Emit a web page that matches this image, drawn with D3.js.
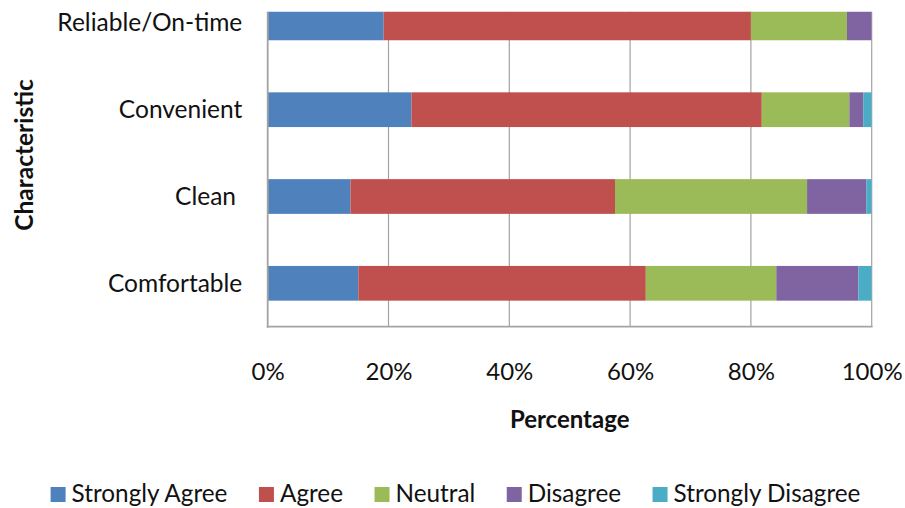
<!DOCTYPE html>
<html>
<head>
<meta charset="utf-8">
<script src="https://cdn.jsdelivr.net/npm/d3@7"></script>
<style>
  body { margin: 0; background: #fff; }
  svg text { font-family: Lato, "Open Sans", sans-serif; fill: #111; }
</style>
</head>
<body>
<svg id="chart" width="905" height="508"></svg>
<script>
// Survey responses per characteristic (percent of respondents)
const categories = ["Reliable/On-time", "Convenient", "Clean ", "Comfortable"];
const seriesNames = ["Strongly Agree", "Agree", "Neutral", "Disagree", "Strongly Disagree"];
const stronglyAgree    = [19.2, 23.8, 13.7, 15.0];
const agree            = [60.8, 58.0, 43.8, 47.6];
const neutral          = [15.9, 14.5, 31.8, 21.6];
const disagree         = [4.1, 2.3, 9.8, 13.6];
const stronglyDisagree = [0.0, 1.4, 0.9, 2.2];
const tickValues = [0, 0.2, 0.4, 0.6, 0.8, 1];
const seriesColors = ["#4F81BD", "#C0504D", "#9BBB59", "#8064A2", "#4BACC6"];

const seriesValues = [stronglyAgree, agree, neutral, disagree, stronglyDisagree];
const rows = categories.map((c, i) => {
  const r = { category: c };
  seriesNames.forEach((s, j) => { r[s] = seriesValues[j][i]; });
  return r;
});

const svg = d3.select("#chart");
const plot = { left: 267.7, right: 871.7, top: 11.7, bottom: 326.7 };

const x = d3.scaleLinear().domain([0, 1]).range([plot.left, plot.right]);
const y = d3.scaleBand()
  .domain(categories)
  .range([-20.5, plot.bottom])
  .paddingInner(0.6)
  .paddingOuter(0.3);
const color = d3.scaleOrdinal().domain(seriesNames).range(seriesColors);

const stacked = d3.stack().keys(seriesNames).offset(d3.stackOffsetExpand)(rows);

// clip region for the plot area
svg.append("defs").append("clipPath").attr("id", "plotClip")
  .append("rect")
  .attr("x", plot.left).attr("y", plot.top)
  .attr("width", plot.right - plot.left).attr("height", plot.bottom - plot.top);

// vertical gridlines
svg.append("g")
  .selectAll("line")
  .data(tickValues.slice(1))
  .join("line")
  .attr("x1", d => x(d)).attr("x2", d => x(d))
  .attr("y1", plot.top).attr("y2", plot.bottom)
  .attr("stroke", "#a3a3a3").attr("stroke-width", 1.2);

// stacked bars
svg.append("g").attr("clip-path", "url(#plotClip)")
  .selectAll("g")
  .data(stacked)
  .join("g")
  .attr("fill", d => color(d.key))
  .selectAll("rect")
  .data(d => d)
  .join("rect")
  .attr("x", d => x(d[0]))
  .attr("width", d => x(d[1]) - x(d[0]))
  .attr("y", d => y(d.data.category))
  .attr("height", y.bandwidth());

// axis lines
svg.append("line")
  .attr("x1", plot.left).attr("x2", plot.left)
  .attr("y1", plot.top).attr("y2", plot.bottom + 1)
  .attr("stroke", "#a3a3a3").attr("stroke-width", 1.8);
svg.append("line")
  .attr("x1", plot.left - 0.9).attr("x2", plot.right + 0.9)
  .attr("y1", plot.bottom).attr("y2", plot.bottom)
  .attr("stroke", "#a3a3a3").attr("stroke-width", 1.8);

// x axis labels
const xAxis = svg.append("g")
  .attr("transform", `translate(0,${plot.bottom})`)
  .call(d3.axisBottom(x).tickValues(tickValues).tickFormat(d3.format(".0%")).tickSize(0));
xAxis.select(".domain").remove();
xAxis.selectAll("text")
  .attr("y", 53.5).attr("dy", null)
  .style("font-size", "24px");

// y axis labels
const yAxis = svg.append("g")
  .attr("transform", `translate(${plot.left},0)`)
  .call(d3.axisLeft(y).tickSize(0).tickPadding(25.4));
yAxis.select(".domain").remove();
yAxis.selectAll("text")
  .style("font-size", "24.5px")
  .style("white-space", "pre")
  .attr("dy", "0.35em");

// axis titles
svg.append("text")
  .attr("x", (plot.left + plot.right) / 2).attr("y", 428)
  .attr("text-anchor", "middle")
  .style("font-size", "24px").style("font-weight", "bold")
  .text("Percentage");
svg.append("text")
  .attr("transform", "translate(33,155) rotate(-90)")
  .attr("text-anchor", "middle")
  .style("font-size", "24.5px").style("font-weight", "bold")
  .text("Characteristic");

// legend, laid out in a centred row
const legend = svg.append("g");
const items = legend.selectAll("g").data(seriesNames).join("g");
items.append("rect")
  .attr("width", 15).attr("height", 15)
  .attr("y", 487)
  .attr("fill", d => color(d));
items.append("text")
  .attr("x", 21).attr("y", 502)
  .style("font-size", "24.3px")
  .text(d => d);
let cursor = 0;
const gap = 31.5;
items.each(function () {
  const w = 21 + d3.select(this).select("text").node().getComputedTextLength();
  d3.select(this).attr("data-x", cursor);
  cursor += w + gap;
});
const totalW = cursor - gap;
const startX = 455.5 - totalW / 2;
items.attr("transform", function () { return `translate(${startX + +this.getAttribute("data-x")},0)`; });
</script>
</body>
</html>
